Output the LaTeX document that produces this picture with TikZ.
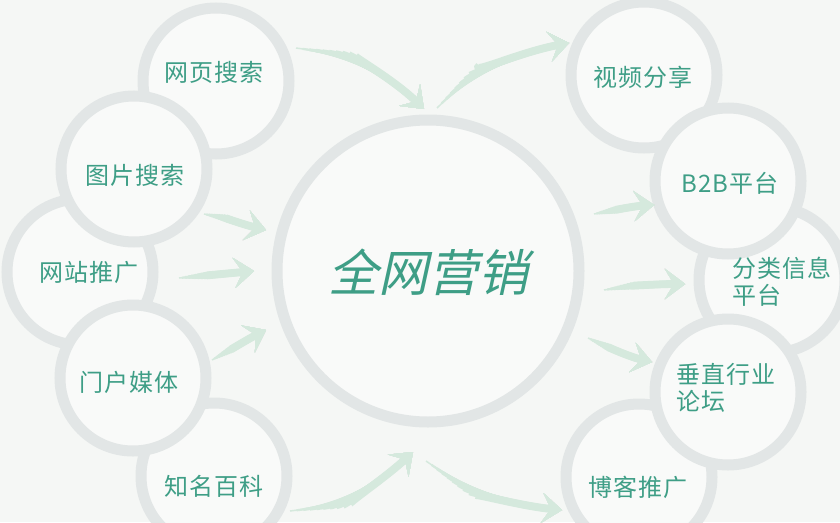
\documentclass[tikz,border=0pt]{standalone}
\usepackage{fontspec}
\newfontfamily\cjk[LetterSpace=4]{Noto Sans CJK SC}
\newfontfamily\cjkslant[FakeSlant=0.22]{Noto Sans CJK SC}
\usetikzlibrary{arrows.meta}
\definecolor{bgc}{RGB}{245,247,245}
\definecolor{ringc}{RGB}{226,230,230}
\definecolor{innerc}{RGB}{249,250,249}
\definecolor{txtc}{RGB}{62,158,134}
\definecolor{arrowc}{RGB}{213,233,221}
\tikzset{
  ring/.style={circle, draw=ringc, fill=innerc, line width=11pt, inner sep=0pt, minimum size=146pt},
  bigring/.style={ring, minimum size=302pt},
  lbl/.style={text=txtc, font=\cjk\fontsize{24}{30}\selectfont, inner sep=0pt},
  lbltwo/.style={lbl, align=left, anchor=north west},
  sw/.style={draw=arrowc, line width=#1, line cap=butt, -{Stealth[length=20pt,width=30pt,inset=9pt]}},
}
\newcommand\myswoosh[2]{%
  \foreach \i in {0,...,9}{%
    \draw[sw={1.5pt+0.7pt*\i}, shorten <={#2*\i/9}] #1;
  }%
}
\begin{document}
\begin{tikzpicture}[x=1pt,y=-1pt]
\fill[bgc] (0,0) rectangle (840,522);
\useasboundingbox (0,0) rectangle (840,522);
\clip (0,0) rectangle (840,522);

% centre
\node[bigring] (c) at (428,271) {};

% left circles (back layer)
\node[ring] (wy) at (216,81) {};
\node[ring] (wz) at (80,272) {};
\node[ring] (zm) at (214,476) {};
% left circles (front layer)
\node[ring] (tp) at (134,169) {};
\node[ring] (mh) at (133,378) {};

% right circles (back layer)
\node[ring] (sp) at (644,75) {};
\node[ring] (fl) at (772,280) {};
\node[ring] (bk) at (639,477) {};
% right circles (front layer)
\node[ring] (b2) at (728,181) {};
\node[ring] (cz) at (728,392) {};

% labels
\node[lbl] (twy) at (214,72) {网页搜索};
\node[lbl] (ttp) at (135,175) {图片搜索};
\node[lbl] (twz) at (89,272) {网站推广};
\node[lbl] (tmh) at (129,382) {门户媒体};
\node[lbl] (tzm) at (214,486) {知名百科};
\node[lbl] (tsp) at (643,77) {视频分享};
\node[lbl] (tb2) at (730,183) {B2B平台};
\node[lbltwo] (tfl) at (732,257) {分类信息\\[-3pt]平台};
\node[lbltwo] (tcz) at (676,363) {垂直行业\\[-3pt]论坛};
\node[lbl] (tbk) at (638,487) {博客推广};
\node[text=txtc, font=\cjkslant\fontsize{50}{50}\selectfont, inner sep=0pt] (tc) at (428,272) {全网营销};

% arrow end points
\coordinate (a1s) at (296,48);  \coordinate (a1e) at (424,109);
\coordinate (a2s) at (204,214); \coordinate (a2e) at (266,230);
\coordinate (a3s) at (179,278); \coordinate (a3e) at (254,271);
\coordinate (a4s) at (212,360); \coordinate (a4e) at (266,330);
\coordinate (a5s) at (290,511); \coordinate (a5e) at (413,452);
\coordinate (b1s) at (437,108); \coordinate (b1e) at (569,43);
\coordinate (b2s) at (594,214); \coordinate (b2e) at (654,205);
\coordinate (b3s) at (604,290); \coordinate (b3e) at (685,284);
\coordinate (b4s) at (588,338); \coordinate (b4e) at (652,362);
\coordinate (b5s) at (426,461); \coordinate (b5e) at (562,510);

\myswoosh{(a1s) .. controls (350,55) and (392,78) .. (a1e)}{60}
\myswoosh{(a2s) .. controls (225,218) and (245,225) .. (a2e)}{22}
\myswoosh{(a3s) -- (a3e)}{28}
\myswoosh{(a4s) .. controls (230,350) and (250,338) .. (a4e)}{22}
\myswoosh{(a5s) .. controls (345,505) and (385,478) .. (a5e)}{60}
\myswoosh{(b1s) .. controls (470,75) and (520,52) .. (b1e)}{60}
\myswoosh{(b2s) .. controls (615,210) and (635,206) .. (b2e)}{22}
\myswoosh{(b3s) .. controls (630,286) and (660,284) .. (b3e)}{30}
\myswoosh{(b4s) .. controls (610,348) and (630,357) .. (b4e)}{22}
\myswoosh{(b5s) .. controls (470,492) and (520,506) .. (b5e)}{60}
\end{tikzpicture}
\end{document}
